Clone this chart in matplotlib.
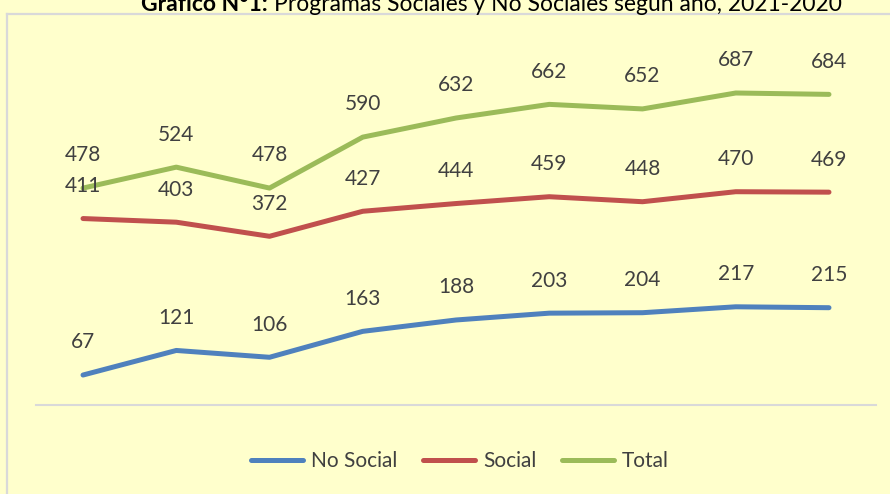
import numpy as np
import matplotlib.pyplot as plt
from matplotlib.lines import Line2D

plt.rcParams['font.family'] = ['Lato', 'DejaVu Sans']

# años (sin etiquetas visibles en el eje)
years = ['2012', '2013', '2014', '2015', '2016', '2017', '2018', '2019', '2020']
no_social = [67, 121, 106, 163, 188, 203, 204, 217, 215]
social = [411, 403, 372, 427, 444, 459, 448, 470, 469]
total = [478, 524, 478, 590, 632, 662, 652, 687, 684]

series = [('No Social', no_social, '#4F81BD'),
          ('Social', social, '#C0504D'),
          ('Total', total, '#9BBB59')]

W, H = 890, 494
bg = '#FFFFCC'
fig = plt.figure(figsize=(W / 100, H / 100), dpi=100, facecolor=bg)

# marco del gráfico
fig.add_artist(Line2D([7 / W, 7 / W], [0, 1 - 14 / H], color='#D9D9D9', lw=1.6))
fig.add_artist(Line2D([7 / W, 1], [1 - 14 / H, 1 - 14 / H], color='#D9D9D9', lw=1.6))

# titulo (cortado arriba, como en el original)
fig.text(268 / W, 1 - 11 / H, 'Gráfico N°1:', ha='right', va='baseline',
         fontsize=16.5, fontweight='bold', color='black')
fig.text(274 / W, 1 - 11 / H, 'Programas Sociales y No Sociales según año, 2021-2020',
         ha='left', va='baseline', fontsize=16.5, color='black')

ax = fig.add_axes([36.4 / W, 1 - 405.5 / H, (875.6 - 36.4) / W, (405.5 - 41.6) / H])
ax.set_facecolor('none')
x = np.arange(len(years))
for name, vals, col in series:
    ax.plot(x, vals, color=col, lw=3.6, label=name, solid_capstyle='round')
    for xi, v in zip(x, vals):
        ax.annotate(str(v), (xi, v), xytext=(0, 23.5), textcoords='offset points',
                    ha='center', va='center', fontsize=15, color='#404040')

ax.set_xlim(-0.5, len(years) - 0.5)
ax.set_ylim(0, 800)
ax.set_xticks([])
ax.set_yticks([])
for s in ['top', 'right', 'left']:
    ax.spines[s].set_visible(False)
ax.spines['bottom'].set_color('#D9D9D9')
ax.spines['bottom'].set_linewidth(1.5)

leg = fig.legend(loc='center', bbox_to_anchor=(460 / W, 1 - 461 / H), ncol=3,
                 frameon=False, fontsize=15, handlelength=2.5, handletextpad=0.4,
                 columnspacing=1.2)
for t in leg.get_texts():
    t.set_color('#404040')

fig.savefig('out.png', dpi=100, facecolor=bg)
